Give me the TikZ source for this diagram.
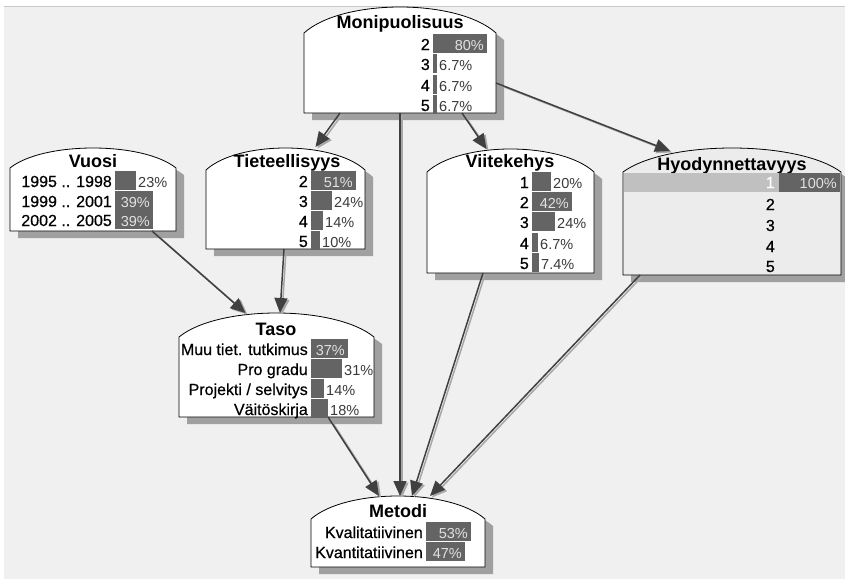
\documentclass[tikz,border=0pt]{standalone}
\usepackage{fontspec}
\setmainfont{Liberation Sans}
\newfontfamily\statefont{Liberation Sans}[BoldFont=Liberation Sans, BoldFeatures={FakeBold=0.5}]
\usetikzlibrary{arrows.meta}

\definecolor{bgc}{HTML}{F0F0F0}
\definecolor{toplinec}{HTML}{C8C8C8}
\definecolor{shadowc}{HTML}{A0A0A0}
\definecolor{barc}{HTML}{646464}
\definecolor{pctin}{HTML}{E2E2E2}
\definecolor{pctout}{HTML}{3A3A3A}
\definecolor{arrc}{HTML}{404040}
\definecolor{arrsc}{HTML}{A8A8A8}
\definecolor{hlc}{HTML}{C0C0C0}
\definecolor{evc}{HTML}{ECECEC}

\tikzset{
  ttl/.style={font=\fontsize{18}{18}\selectfont\bfseries, anchor=base, inner sep=0},
  lbl/.style={font=\fontsize{16}{16}\selectfont\statefont\bfseries, anchor=base east, inner sep=0},
  pin/.style={font=\fontsize{14.5}{14.5}\selectfont, text=pctin, anchor=base east, inner sep=0},
  pout/.style={font=\fontsize{14.5}{14.5}\selectfont, text=pctout, anchor=base west, inner sep=0},
  frame/.style={draw=black, line width=0.8pt},
  arr/.style={draw=arrc, line width=1.5pt, -{Triangle[length=15pt,width=13pt]}},
  arrsh/.style={draw=arrsc, line width=1.5pt, -{Triangle[length=15pt,width=13pt]}},
}

\newcommand\bnshadow[5]{%
  \fill[shadowc] ({#1+8},{#5+7}) -- ({#1+8},{#3+7}) .. controls ({#1+8+0.2*(#4-#1)},{(4*#2-#3)/3+7}) and ({#4+8-0.2*(#4-#1)},{(4*#2-#3)/3+7}) .. ({#4+8},{#3+7}) -- ({#4+8},{#5+7}) -- cycle;}

\newcommand\bnbody[7]{%
  \filldraw[frame, fill=#7] (#2,#6) -- (#2,#4) .. controls ({#2+0.2*(#5-#2)},{(4*#3-#4)/3}) and ({#5-0.2*(#5-#2)},{(4*#3-#4)/3}) .. (#5,#4) -- (#5,#6) -- cycle;
  \node[inner sep=0, outer sep=0, minimum width={#5-#2}, minimum height={#6-#3}, anchor=north west] (#1) at (#2,#3) {};}

% one state row: id, label right edge, baseline, label, bar width, percent, text inside bar (1) or after it (0)
\newcommand\bnrow[7]{%
  \fill[barc] ({#2+3},{#3-16}) rectangle ({#2+3+#5},{#3+2.5});
  \node[lbl] (#1-lab) at (#2,#3) {#4};
  \ifnum#7=1
    \node[pin] (#1-pct) at ({#2+#5},#3) {#6};
  \else
    \node[pout] (#1-pct) at ({#2+5+#5},#3) {#6};
  \fi}

\newcommand\bnlink[2]{%
  \draw[arrsh, transform canvas={shift={(2pt,-1.5pt)}}] #1 -- #2;
  \draw[arr] #1 -- #2;}

\begin{document}
\begin{tikzpicture}[x=1pt, y=-1pt]
\useasboundingbox (0,0) rectangle (845,579);
\fill[white] (0,0) rectangle (845,579);
\fill[bgc] (4,6) rectangle (845,579);
\draw[toplinec, line width=1pt] (4,6.5) -- (845,6.5);

% shadows
\bnshadow{304}{7}{33}{496}{113}
\bnshadow{10}{148}{168}{176}{231}
\bnshadow{206}{148}{170}{365}{249}
\bnshadow{427}{149}{172}{594}{273}
\bnshadow{623}{148}{172}{841}{275}
\bnshadow{179}{313}{337}{374}{417}
\bnshadow{311}{496}{519}{485}{567}

% node bodies
\bnbody{mon}{304}{7}{33}{496}{113}{white}
\bnbody{vuo}{10}{148}{168}{176}{231}{white}
\bnbody{tie}{206}{148}{170}{365}{249}{white}
\bnbody{vii}{427}{149}{172}{594}{273}{white}
\bnbody{hyo}{623}{148}{172}{841}{275}{evc}
\bnbody{tas}{179}{313}{337}{374}{417}{white}
\bnbody{met}{311}{496}{519}{485}{567}{white}

% links
\bnlink{([xshift=-60pt]mon.south)}{([xshift=30pt,yshift=1pt]tie.north)}
\bnlink{([xshift=62pt]mon.south)}{([xshift=-24pt]vii.north)}
\bnlink{([yshift=-23pt]mon.east)}{([xshift=-62pt,yshift=-3pt]hyo.north)}
\bnlink{(mon.south)}{([xshift=2pt]met.north)}
\bnlink{([xshift=59pt]vuo.south)}{([xshift=-31pt]tas.north)}
\bnlink{([xshift=-1.5pt]tie.south)}{([xshift=3.5pt]tas.north)}
\bnlink{([xshift=51.5pt]tas.south)}{([xshift=-19pt]met.north)}
\bnlink{([xshift=-27.5pt]vii.south)}{([xshift=14pt]met.north)}
\bnlink{([xshift=-92pt]hyo.south)}{([xshift=32pt]met.north)}

% Monipuolisuus
\node[ttl] (mon-t) at (400,28) {Monipuolisuus};
\bnrow{m2}{430}{50}{2}{54}{80\%}{1}
\bnrow{m3}{430}{70}{3}{4}{6.7\%}{0}
\bnrow{m4}{430}{91}{4}{4}{6.7\%}{0}
\bnrow{m5}{430}{111}{5}{4}{6.7\%}{0}

% Vuosi
\node[ttl] (vuo-t) at (93,167) {Vuosi};
\bnrow{v1}{112}{187}{1995 .. 1998}{21}{23\%}{0}
\bnrow{v2}{112}{207}{1999 .. 2001}{38}{39\%}{1}
\bnrow{v3}{112}{226}{2002 .. 2005}{38}{39\%}{1}

% Tieteellisyys
\node[ttl] (tie-t) at (287,167) {Tieteellisyys};
\bnrow{t2}{308}{187}{2}{45}{51\%}{1}
\bnrow{t3}{308}{207}{3}{21}{24\%}{0}
\bnrow{t4}{308}{227}{4}{12}{14\%}{0}
\bnrow{t5}{308}{247}{5}{9}{10\%}{0}

% Viitekehys
\node[ttl] (vii-t) at (510,167) {Viitekehys};
\bnrow{k1}{529}{188}{1}{19}{20\%}{0}
\bnrow{k2}{529}{208}{2}{40}{42\%}{1}
\bnrow{k3}{529}{228}{3}{23}{24\%}{0}
\bnrow{k4}{529}{249}{4}{6}{6.7\%}{0}
\bnrow{k5}{529}{269}{5}{7}{7.4\%}{0}

% Hyodynnettavyys (state 1 observed)
\node[ttl] (hyo-t) at (732,170) {Hyodynnettavyys};
\fill[hlc] (624,173) rectangle (779,192);
\fill[barc] (779,173) rectangle (840,192);
\node[lbl, text=white] (h1-lab) at (775,188) {1};
\node[pin] (h1-pct) at (837,188) {100\%};
\node[lbl] (h2-lab) at (775,210) {2};
\node[lbl] (h3-lab) at (775,231) {3};
\node[lbl] (h4-lab) at (775,252) {4};
\node[lbl] (h5-lab) at (775,272) {5};

% Taso
\node[ttl] (tas-t) at (276,335) {Taso};
\bnrow{s1}{308}{355}{Muu tiet. tutkimus}{37}{37\%}{1}
\bnrow{s2}{308}{375}{Pro gradu}{31}{31\%}{0}
\bnrow{s3}{308}{395}{Projekti / selvitys}{13}{14\%}{0}
\bnrow{s4}{308}{415}{Väitöskirja}{17}{18\%}{0}

% Metodi
\node[ttl] (met-t) at (398,517) {Metodi};
\bnrow{e1}{423}{538}{Kvalitatiivinen}{45}{53\%}{1}
\bnrow{e2}{423}{558}{Kvantitatiivinen}{39}{47\%}{1}
\end{tikzpicture}
\end{document}
